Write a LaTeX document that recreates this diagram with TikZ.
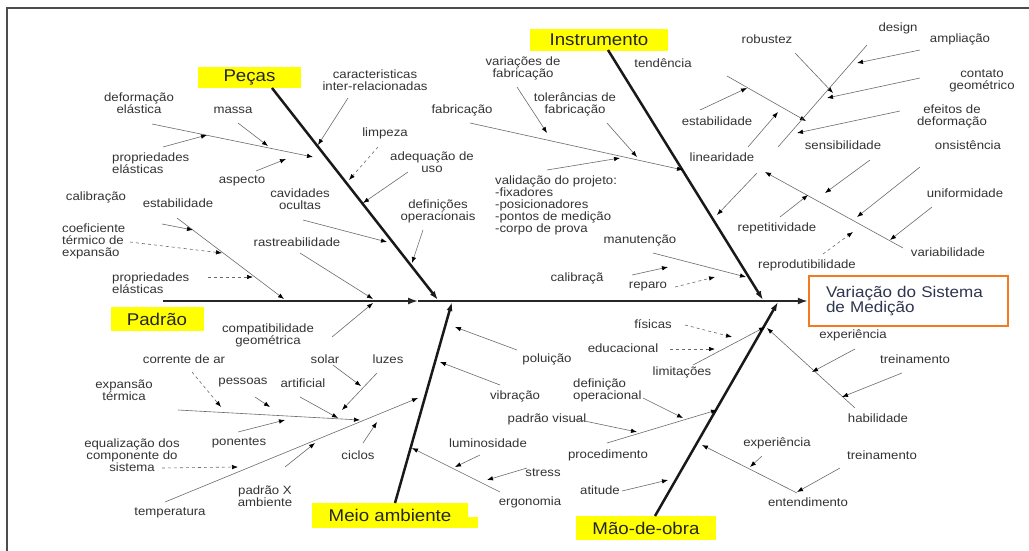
\documentclass[tikz,border=0pt]{standalone}
\usepackage{fontspec}
\setmainfont{Liberation Sans}[FakeStretch=1.1]
\usetikzlibrary{arrows.meta}
\definecolor{fbyellow}{HTML}{FFFF00}
\definecolor{fborange}{HTML}{F47A20}
\definecolor{fbtext}{HTML}{2E3550}
\definecolor{fbgray}{HTML}{6A6A6A}

\begin{document}
\begin{tikzpicture}[
    x=1pt, y=-1pt,
    lbl/.style={text=black!80, font=\fontsize{12}{12}\selectfont, inner sep=0pt, align=center},
    cat/.style={fill=fbyellow, text=black!85, font=\fontsize{17}{17}\selectfont, inner sep=0pt},
    twig/.style={draw=fbgray, line width=0.6pt, -{Latex[length=6pt, width=4.5pt, color=black]}},
    twigd/.style={twig, dashed},
    bone/.style={line width=2.5pt, black!90, -{Latex[length=9pt, width=6pt]}},
    spine/.style={line width=1.6pt, black!85, -{Latex[length=10pt, width=7pt]}},
  ]
  \useasboundingbox (0,0) rectangle (1029,550);
  \draw[line width=2pt, black!70] (7,552) -- (7,8) -- (1031,8);

  % ===== effect and spine =====
  \node[draw=fborange, line width=2.5pt, minimum width=199pt, minimum height=50pt,
        text width=165pt, inner xsep=17pt, align=left, text=fbtext,
        font=\fontsize{15.5}{15.5}\selectfont] (effect) at (908.5,301) {Variação do Sistema\\de Medição};
  \coordinate (tail) at (163,301);
  \coordinate (spine-mid) at (418,301);
  \draw[spine] (tail) -- (spine-mid);
  \draw[spine] (spine-mid) -- (effect.west);

  % ===== category boxes and bones =====
  \node[cat, minimum width=103pt, minimum height=21pt] (pecas) at (249.5,77.5) {Peças};
  \node[cat, minimum width=138pt, minimum height=22pt] (instr) at (599,40) {Instrumento};
  \node[cat, minimum width=93pt, minimum height=24pt] (padrao) at (157,319) {Padrão};
  \node[cat, minimum width=156pt, minimum height=25pt] (meio) at (390,515.5) {Meio ambiente};
  \fill[fbyellow] (meio.east |- 0,517) rectangle (478,528);
  \node[cat, minimum width=140pt, minimum height=24pt] (mao) at (646,528) {Mão-de-obra};

  \coordinate (pecas-root) at (272,88);   \coordinate (pecas-head) at (438,300);
  \coordinate (instr-root) at (608,50);   \coordinate (instr-head) at (763,300);
  \coordinate (meio-root) at (395,503);   \coordinate (meio-head) at (452,302);
  \coordinate (mao-root) at (655,516);    \coordinate (mao-head) at (778,302);
  \draw[bone] (pecas-root) -- (pecas-head);
  \draw[bone] (instr-root) -- (instr-head);
  \draw[bone] (meio-root) -- (meio-head);
  \draw[bone] (mao-root) -- (mao-head);

  % ===== Peças =====
  \node[lbl] (carac) at (375,80.5) {caracteristicas\\inter-relacionadas};
  \node[lbl] (limp) at (385,133) {limpeza};
  \node[lbl] (adeq) at (432,162.5) {adequação de\\uso};
  \node[lbl] (cavid) at (300,199) {cavidades\\ocultas};
  \node[lbl] (defop) at (438,211) {definições\\operacionais};
  \node[lbl] (rastr) at (297,242) {rastreabilidade};
  \node[lbl] (deform) at (139,103.5) {deformação\\elástica};
  \node[lbl] (massa) at (233,110) {massa};
  \node[lbl, anchor=west, align=left] (propA) at (112,163) {propriedades\\elásticas};
  \node[lbl] (aspec) at (242,181) {aspecto};
  \foreach \n/\sx/\sy/\ex/\ey in {carac/348/98/318/145, adeq/408/172/363/203,
      cavid/303/220/387/242, defop/423/230/412/263, rastr/300/253/373/299,
      deform/152/124/313/157, massa/238/123/268/146, propA/163/147/207/135,
      aspec/256/171/286/159}
    {\coordinate (\n-s) at (\sx,\sy); \coordinate (\n-e) at (\ex,\ey);
     \draw[twig] (\n-s) -- (\n-e);}
  \coordinate (limp-s) at (378,147); \coordinate (limp-e) at (349,180);
  \draw[twigd] (limp-s) -- (limp-e);

  % ===== Padrão =====
  \node[lbl] (calib) at (96,197) {calibração};
  \node[lbl] (estabP) at (178,203) {estabilidade};
  \node[lbl, anchor=west, align=left] (coef) at (62,241) {coeficiente\\térmico de\\expansão};
  \node[lbl, anchor=west, align=left] (propB) at (112,283) {propriedades\\elásticas};
  \node[lbl] (compat) at (268,335) {compatibilidade\\geométrica};
  \foreach \n/\sx/\sy/\ex/\ey in {estabP/177/218/284/299, calib/162/224/193/230,
      compat/332/337/373/303}
    {\coordinate (\n-s) at (\sx,\sy); \coordinate (\n-e) at (\ex,\ey);
     \draw[twig] (\n-s) -- (\n-e);}
  \foreach \n/\sx/\sy/\ex/\ey in {coef/130/242/222/253, propB/208/277/253/277}
    {\coordinate (\n-s) at (\sx,\sy); \coordinate (\n-e) at (\ex,\ey);
     \draw[twigd] (\n-s) -- (\n-e);}

  % ===== Meio ambiente =====
  \node[lbl] (polu) at (547,359) {poluição};
  \node[lbl] (vibr) at (515,396) {vibração};
  \node[lbl] (lumin) at (488,443) {luminosidade};
  \node[lbl] (stress) at (543,473) {stress};
  \node[lbl] (ergo) at (530,502) {ergonomia};
  \node[lbl] (corr) at (184,359) {corrente de ar};
  \node[lbl] (expT) at (124,390) {expansão\\térmica};
  \node[lbl] (pess) at (243,383) {pessoas};
  \node[lbl] (artif) at (303,383) {artificial};
  \node[lbl] (solar) at (325,359) {solar};
  \node[lbl] (luzes) at (388,359) {luzes};
  \node[lbl] (ponent) at (239,443) {ponentes};
  \node[lbl] (equal) at (132,455) {equalização dos\\componente do\\sistema};
  \node[lbl] (ciclos) at (358,455) {ciclos};
  \node[lbl] (padX) at (265,496) {padrão X\\ambiente};
  \node[lbl] (temp) at (170,513) {temperatura};
  \foreach \n/\sx/\sy/\ex/\ey in {polu/517/350/455/327, vibr/500/385/440/362,
      ergo/500/492/412/448, lumin/480/455/455/467, stress/527/468/487/480,
      temp/165/502/418/398, padX/285/467/315/443, ciclos/363/443/377/422,
      expT/178/410/360/420, pess/255/397/270/407, artif/300/397/338/418,
      solar/333/365/361/386, luzes/377/373/342/410, ponent/238/432/285/420}
    {\coordinate (\n-s) at (\sx,\sy); \coordinate (\n-e) at (\ex,\ey);
     \draw[twig] (\n-s) -- (\n-e);}
  \foreach \n/\sx/\sy/\ex/\ey in {equal/162/468/238/467, corr/192/372/221/407}
    {\coordinate (\n-s) at (\sx,\sy); \coordinate (\n-e) at (\ex,\ey);
     \draw[twigd] (\n-s) -- (\n-e);}

  % ===== Instrumento =====
  \node[lbl] (tend) at (663,63) {tendência};
  \node[lbl] (varf) at (523,68.5) {variações de\\fabricação};
  \node[lbl] (fabr) at (462,110) {fabricação};
  \node[lbl] (toler) at (575,104) {tolerâncias de\\fabricação};
  \node[lbl, anchor=north west, align=left] (valid) at (495,176)
    {validação do projeto:\\-fixadores\\-posicionadores\\-pontos de medição\\-corpo de prova};
  \node[lbl] (manut) at (640,240) {manutenção};
  \node[lbl] (calib2) at (577,278) {calibraçã};
  \node[lbl] (reparo) at (648,287) {reparo};
  \node[lbl] (robust) at (767,39) {robustez};
  \node[lbl] (design) at (898,28) {design};
  \node[lbl] (ampl) at (960,39) {ampliação};
  \node[lbl] (contato) at (982,81) {contato\\geométrico};
  \node[lbl] (efeitos) at (952,116.5) {efeitos de\\deformação};
  \node[lbl] (estabI) at (717,121) {estabilidade};
  \node[lbl] (linear) at (722,157) {linearidade};
  \node[lbl] (sensib) at (843,145) {sensibilidade};
  \node[lbl] (consist) at (968,145) {onsistência};
  \node[lbl] (unif) at (965,193) {uniformidade};
  \node[lbl] (repet) at (777,228) {repetitividade};
  \node[lbl] (variab) at (948,252) {variabilidade};
  \node[lbl] (reprod) at (807,265) {reprodutibilidade};
  \foreach \n/\sx/\sy/\ex/\ey in {fabr/470/123/683/170, varf/517/87/547/133,
      toler/607/123/637/157, valid/547/170/620/158, manut/653/253/746/277,
      calib2/632/275/668/267, tend/727/76/806/121, estabI/700/110/747/88,
      linear/748/147/778/112, ampl/920/50/857/63, robust/795/53/833/93,
      contato/920/78/827/98, efeitos/900/111/797/133, sensib/870/160/825/193,
      variab/903/248/765/172, linbone/757/173/717/215, repet/780/217/808/195,
      consist/920/167/857/217, unif/932/207/890/240}
    {\coordinate (\n-s) at (\sx,\sy); \coordinate (\n-e) at (\ex,\ey);
     \draw[twig] (\n-s) -- (\n-e);}
  \foreach \n/\sx/\sy/\ex/\ey in {reparo/675/287/715/277, reprod/823/254/853/232}
    {\coordinate (\n-s) at (\sx,\sy); \coordinate (\n-e) at (\ex,\ey);
     \draw[twigd] (\n-s) -- (\n-e);}
  \coordinate (design-s) at (867,45); \coordinate (design-e) at (778,147);
  \draw[fbgray, line width=0.6pt] (design-s) -- (design-e);

  % ===== Mão-de-obra =====
  \node[lbl] (fisic) at (653,324) {físicas};
  \node[lbl] (educ) at (623,348) {educacional};
  \node[lbl] (limit) at (682,372) {limitações};
  \node[lbl, anchor=west, align=left] (defin) at (573,390) {definição\\operacional};
  \node[lbl] (padV) at (547,419) {padrão visual};
  \node[lbl] (proced) at (608,455) {procedimento};
  \node[lbl] (atit) at (600,490) {atitude};
  \node[lbl] (expA) at (853,335) {experiência};
  \node[lbl] (treinA) at (915,359) {treinamento};
  \node[lbl] (habil) at (878,418) {habilidade};
  \node[lbl] (expB) at (777,443) {experiência};
  \node[lbl] (treinB) at (882,455) {treinamento};
  \node[lbl] (enten) at (808,502) {entendimento};
  \foreach \n/\sx/\sy/\ex/\ey in {limit/693/365/765/327, proced/607/443/717/410,
      defin/643/398/683/418, padV/575/419/637/432, atit/622/491/668/480,
      habil/855/408/767/328, expA/855/349/812/372, treinA/902/373/842/397,
      enten/797/493/702/445, expB/762/456/750/467, treinB/840/468/797/492}
    {\coordinate (\n-s) at (\sx,\sy); \coordinate (\n-e) at (\ex,\ey);
     \draw[twig] (\n-s) -- (\n-e);}
  \foreach \n/\sx/\sy/\ex/\ey in {fisic/685/325/732/337, educ/670/349/715/349}
    {\coordinate (\n-s) at (\sx,\sy); \coordinate (\n-e) at (\ex,\ey);
     \draw[twigd] (\n-s) -- (\n-e);}
\end{tikzpicture}
\end{document}
